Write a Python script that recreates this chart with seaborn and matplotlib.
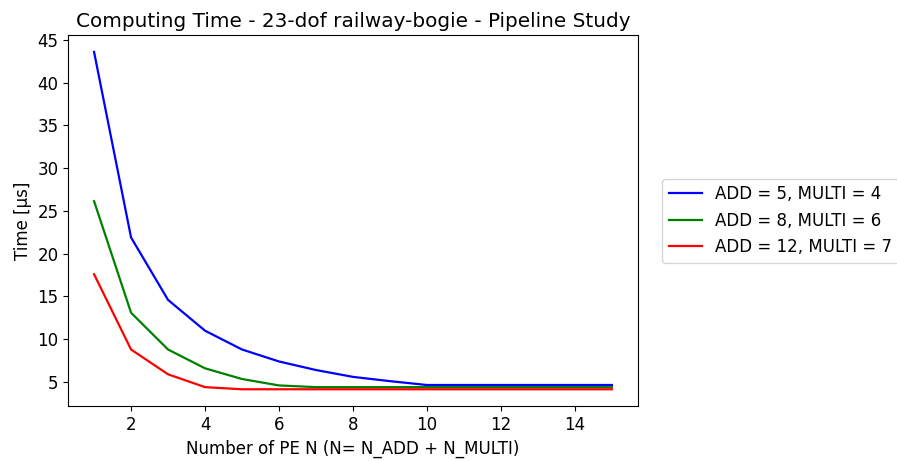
import pandas as pd
import numpy as np
import matplotlib
matplotlib.use('Agg')
import matplotlib.pyplot as plt
import seaborn as sns

# Number of processing elements
n_pe = list(range(1, 16))

# Computing time [µs] per configuration
time_add5_multi4 = [43.6, 21.9, 14.6, 11.0, 8.8, 7.4, 6.4, 5.6, 5.1, 4.65, 4.65, 4.65, 4.65, 4.65, 4.65]
time_add8_multi6 = [26.15, 13.1, 8.8, 6.6, 5.35, 4.6, 4.4, 4.4, 4.4, 4.4, 4.4, 4.4, 4.4, 4.4, 4.4]
time_add12_multi7 = [17.6, 8.8, 5.9, 4.4, 4.15, 4.15, 4.15, 4.15, 4.15, 4.15, 4.15, 4.15, 4.15, 4.15, 4.15]

labels = ['ADD = 5, MULTI = 4', 'ADD = 8, MULTI = 6', 'ADD = 12, MULTI = 7']
colors = ['blue', 'green', 'red']

df = pd.DataFrame({
    'N': n_pe * 3,
    'Time': time_add5_multi4 + time_add8_multi6 + time_add12_multi7,
    'Config': [labels[0]] * 15 + [labels[1]] * 15 + [labels[2]] * 15,
})

plt.rcParams['font.size'] = 12

fig = plt.figure(figsize=(8.97, 4.61), dpi=100)
ax = fig.add_axes([0.076, 0.119, 0.635, 0.805])

sns.lineplot(data=df, x='N', y='Time', hue='Config', palette=colors,
             linewidth=1.6, ax=ax)

ax.set_title('Computing Time - 23-dof railway-bogie - Pipeline Study', fontsize=14.4)
ax.set_xlabel('Number of PE N (N= N_ADD + N_MULTI)')
ax.set_ylabel('Time [µs]')
ax.set_xticks([2, 4, 6, 8, 10, 12, 14])
ax.set_yticks([5, 10, 15, 20, 25, 30, 35, 40, 45])

ax.legend(loc='center left', bbox_to_anchor=(1.028, 0.5), fontsize=12)

plt.savefig('out.png', dpi=100)
plt.close('all')
